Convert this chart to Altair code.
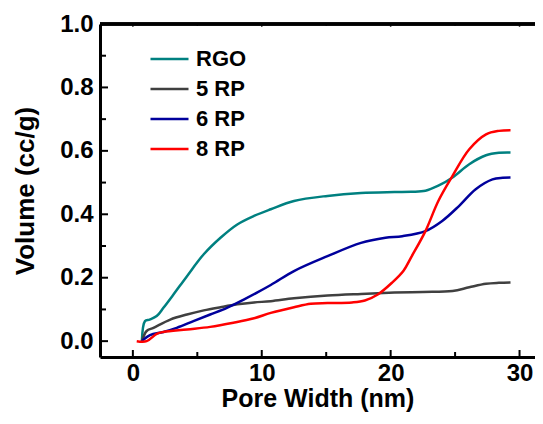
import altair as alt
import pandas as pd

series = ["RGO", "5 RP", "6 RP", "8 RP"]
colors = ["#008080", "#404040", "#00009c", "#ff0000"]

rgo_x = [0.7, 0.94, 1.3, 1.85, 2.37, 3.15, 4.2, 5.5, 6.8, 8.1, 9.4, 10.7, 12.5, 15.1, 17.7, 20.3, 21.6, 22.7, 23.7, 24.8, 26.1, 27.4, 28.4, 29.3]
rgo_y = [0.0, 0.063, 0.068, 0.079, 0.105, 0.147, 0.205, 0.274, 0.326, 0.368, 0.395, 0.416, 0.442, 0.458, 0.467, 0.470, 0.471, 0.474, 0.490, 0.516, 0.558, 0.586, 0.594, 0.595]

rp5_x = [0.7, 1.07, 1.6, 2.9, 4.2, 5.5, 6.8, 8.1, 9.4, 10.7, 12.5, 15.1, 17.7, 20.3, 22.5, 24.8, 26.1, 27.4, 28.4, 29.3]
rp5_y = [0.0, 0.032, 0.042, 0.068, 0.084, 0.097, 0.107, 0.116, 0.122, 0.126, 0.135, 0.144, 0.149, 0.153, 0.155, 0.158, 0.170, 0.181, 0.184, 0.185]

rp6_x = [0.7, 1.33, 2.37, 3.4, 4.7, 6.0, 7.3, 8.6, 10.7, 12.5, 15.1, 17.7, 19.6, 20.9, 22.7, 24.0, 25.3, 26.6, 27.9, 28.7, 29.3]
rp6_y = [0.0, 0.019, 0.029, 0.042, 0.063, 0.084, 0.105, 0.131, 0.177, 0.221, 0.268, 0.310, 0.326, 0.331, 0.347, 0.379, 0.426, 0.479, 0.510, 0.515, 0.516]

rp8_x = [0.3, 1.07, 1.85, 2.37, 4.2, 6.0, 7.8, 9.4, 10.7, 12.5, 13.8, 15.1, 17.0, 18.0, 19.0, 20.1, 21.0, 21.6, 22.7, 23.7, 24.8, 26.1, 27.4, 28.4, 29.3]
rp8_y = [0.0, 0.0, 0.023, 0.029, 0.037, 0.045, 0.058, 0.072, 0.089, 0.107, 0.118, 0.120, 0.122, 0.128, 0.147, 0.184, 0.222, 0.265, 0.347, 0.442, 0.521, 0.605, 0.652, 0.663, 0.665]

x_major = [0, 10, 20, 30]
x_minor = [5, 15, 25]
y_major = [0.0, 0.2, 0.4, 0.6, 0.8, 1.0]
y_minor = [0.1, 0.3, 0.5, 0.7, 0.9]

rows = []
for name, xs_, ys_ in zip(series, [rgo_x, rp5_x, rp6_x, rp8_x], [rgo_y, rp5_y, rp6_y, rp8_y]):
    for a, b in zip(xs_, ys_):
        rows.append({"x": a, "y": b, "s": name})
df = pd.DataFrame(rows)

W, H = 435, 333
FONT = "Liberation Sans"
xsc = alt.Scale(domain=[-2.55, 31.2], nice=False, zero=False)
ysc = alt.Scale(domain=[-0.05, 1.0], nice=False, zero=False)

xaxis = alt.Axis(
    values=x_major, format="d", title="Pore Width (nm)", grid=False,
    ticks=False, tickSize=0, labelPadding=4, titlePadding=1,
    domainWidth=3, domainColor="black", labelFontSize=24, labelFontWeight="bold",
    titleFontSize=25, titleFontWeight="bold", labelFont=FONT, titleFont=FONT,
    labelColor="black", titleColor="black")
yaxis = alt.Axis(
    values=y_major, format=".1f", title="Volume (cc/g)", grid=False,
    ticks=False, tickSize=0, labelPadding=7, titlePadding=21,
    domainWidth=3, domainColor="black", labelFontSize=24, labelFontWeight="bold",
    titleFontSize=26, titleFontWeight="bold", labelFont=FONT, titleFont=FONT,
    labelColor="black", titleColor="black")

lines = alt.Chart(df).mark_line(strokeWidth=2.5, interpolate="catmull-rom").encode(
    x=alt.X("x:Q", scale=xsc, axis=xaxis),
    y=alt.Y("y:Q", scale=ysc, axis=yaxis),
    color=alt.Color("s:N", scale=alt.Scale(domain=series, range=colors), legend=alt.Legend(
        title=None, orient="none", legendX=49, legendY=20, symbolType="stroke",
        symbolSize=1444, symbolStrokeWidth=2.5, clipHeight=30, rowPadding=0,
        labelFontSize=22, labelFontWeight="bold", labelFont=FONT, labelColor="black",
        labelOffset=6, padding=0)),
    detail="s:N",
)

ymaj = pd.DataFrame({"y": y_major})
ymin = pd.DataFrame({"y": y_minor})
xmaj = pd.DataFrame({"x": x_major})
xmin = pd.DataFrame({"x": x_minor})

def ytick(d, length):
    return alt.Chart(d).mark_rule(color="black", strokeWidth=2).encode(
        y=alt.Y("y:Q", scale=ysc, axis=yaxis), x=alt.value(0), x2=alt.value(length))

def xtick_bottom(d, length):
    return alt.Chart(d).mark_rule(color="black", strokeWidth=2).encode(
        x=alt.X("x:Q", scale=xsc, axis=xaxis), y=alt.value(H), y2=alt.value(H - length))

def xtick_top(d, length):
    return alt.Chart(d).mark_rule(color="#555555", strokeWidth=1.5).encode(
        x=alt.X("x:Q", scale=xsc, axis=xaxis), y=alt.value(0), y2=alt.value(length))

top_border = alt.Chart(xmaj).mark_rule(color="black", strokeWidth=3).encode(
    x=alt.value(0), x2=alt.value(W), y=alt.value(0))

chart = alt.layer(
    lines,
    ytick(ymaj, 8), ytick(ymin, 6),
    xtick_bottom(xmaj, 7), xtick_bottom(xmin, 5),
    xtick_top(xmaj, 3), xtick_top(xmin, 2),
    top_border,
).properties(
    width=W, height=H, autosize="none",
    padding={"left": 92, "top": 16, "right": 0, "bottom": 59},
).configure_view(stroke=None).configure(background="white")

chart.save("out.html", embed_options={"renderer": "svg", "actions": False})
